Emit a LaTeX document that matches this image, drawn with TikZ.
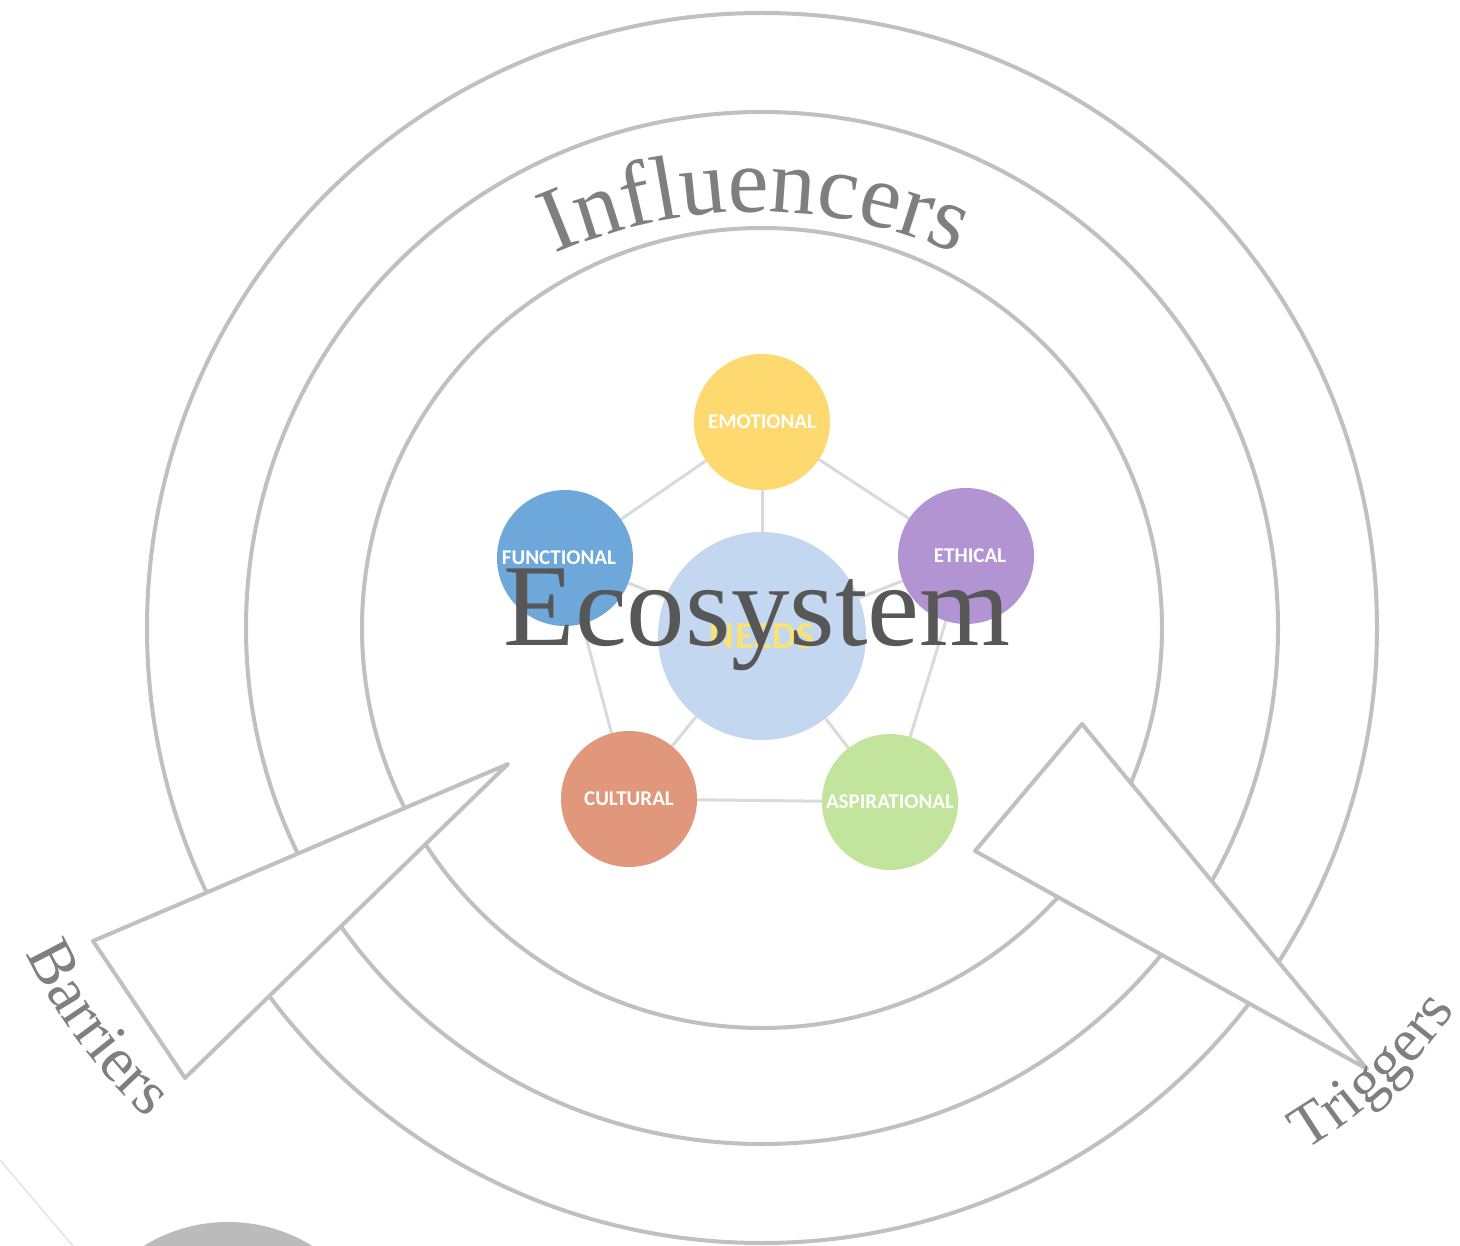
\documentclass[tikz,border=0pt]{standalone}
\usepackage{fontspec}
\setmainfont{Liberation Serif}
\newfontfamily\calfont{Carlito}
\usetikzlibrary{decorations.text}
\definecolor{ringgrey}{HTML}{C0C0C0}
\definecolor{txtgrey}{HTML}{7F7F7F}
\definecolor{ecogrey}{HTML}{575757}
\definecolor{linkgrey}{HTML}{DADADA}
\definecolor{emocol}{HTML}{FDD96F}
\definecolor{ethcol}{HTML}{B394D2}
\definecolor{funcol}{HTML}{6EA8DA}
\definecolor{culcol}{HTML}{E1977C}
\definecolor{aspcol}{HTML}{C2E49C}
\definecolor{needcol}{HTML}{C3D8F0}
\definecolor{needtxt}{HTML}{FBE372}
\definecolor{blobgrey}{HTML}{BBBBBB}
\definecolor{faintgrey}{HTML}{E4E4E4}
\pgfdeclarelayer{bg}
\pgfdeclarelayer{edges}
\pgfsetlayers{bg,edges,main}
\begin{document}
\begin{tikzpicture}[x=1pt,y=1pt,
  ring/.style={draw=ringgrey, line width=4pt},
  callout/.style={draw=ringgrey, fill=white, line width=4pt, line join=round},
  needbub/.style={circle, minimum size=136pt, inner sep=0pt, text=white,
    font=\calfont\bfseries\fontsize{21}{21}\selectfont},
  link/.style={draw=linkgrey, line width=3pt}
]
\useasboundingbox (0,0) rectangle (1460,-1246);
\clip (0,0) rectangle (1460,-1246);
\coordinate (ctr) at (762,-628);

\begin{pgfonlayer}{bg}
\fill[white] (0,0) rectangle (1460,-1246);
\draw[ring] (ctr) circle[radius=615];
\draw[ring] (ctr) circle[radius=516];
\draw[ring] (ctr) circle[radius=400];
\coordinate (b1) at (508,-764);
\coordinate (b2) at (93,-941);
\coordinate (b3) at (185,-1078);
\draw[callout] (b1) -- (b2) -- (b3) -- cycle;
\coordinate (t1) at (1082,-724);
\coordinate (t2) at (975,-851);
\coordinate (t3) at (1367,-1069);
\draw[callout] (t1) -- (t2) -- (t3) -- cycle;
\end{pgfonlayer}

% faint artefacts at the bottom left
\fill[blobgrey] (228,-1382) circle[radius=160];
\draw[faintgrey, line width=1.5pt] (0,-1160) -- (73,-1246);

% needs pentagon
\node[needbub, minimum size=208pt, fill=needcol, text=needtxt,
      font=\calfont\bfseries\fontsize{38}{38}\selectfont] (needs) at (762,-636) {NEEDS};
\node[needbub, fill=emocol] (emo) at (762,-422) {EMOTIONAL};
\node[needbub, fill=ethcol] (eth) at (966,-556) {\hspace*{8pt}ETHICAL};
\node[needbub, fill=aspcol] (asp) at (890,-802) {ASPIRATIONAL};
\node[needbub, fill=culcol] (cul) at (629,-799) {CULTURAL};
\node[needbub, fill=funcol] (fun) at (565,-558) {FUNCTIONAL\hspace*{12pt}};

\begin{pgfonlayer}{edges}
\draw[link] (fun) -- (emo) -- (eth) -- (asp) -- (cul) -- (fun);
\draw[link] (needs) -- (emo);
\draw[link] (needs) -- (eth);
\draw[link] (needs) -- (asp);
\draw[link] (needs) -- (cul);
\draw[link] (needs) -- (fun);
\end{pgfonlayer}

\node[font=\fontsize{117}{117}\selectfont, text=ecogrey, anchor=base, inner sep=0pt] (eco) at (757,-645) {Ecosystem};

% curved labels
\path[decorate, decoration={text along path, text align=center,
  text={|\color{txtgrey}\fontsize{92}{92}\selectfont|Influencers}}]
  ([shift={(180:500)}]756,-712) arc[start angle=180, end angle=0, radius=500];
\path[decorate, decoration={text along path, text align=center,
  text={|\color{txtgrey}\fontsize{64}{64}\selectfont|Barriers}}]
  ([shift={(188.8:530)}]506,-728) arc[start angle=188.8, end angle=243.8, radius=530];
\path[decorate, decoration={text along path, text align=center,
  text={|\color{txtgrey}\fontsize{61}{61}\selectfont|Triggers}}]
  ([shift={(-74:470)}]1067,-745) arc[start angle=-74, end angle=-20, radius=470];
\end{tikzpicture}
\end{document}
